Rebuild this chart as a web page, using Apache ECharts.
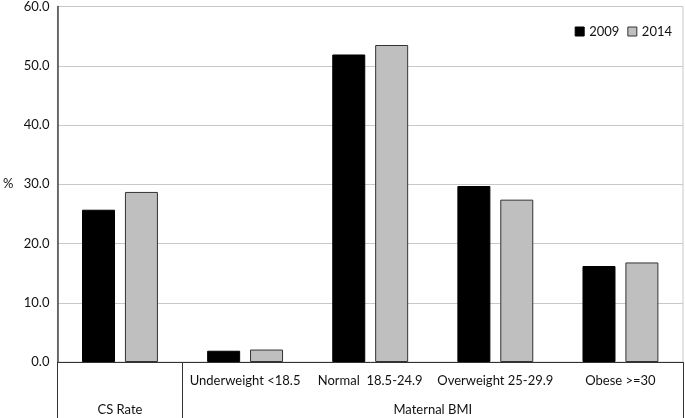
<!DOCTYPE html>
<html>
<head>
<meta charset="utf-8">
<script src="https://cdn.jsdelivr.net/npm/echarts@6/dist/echarts.min.js"></script>
<style>
  html, body { margin: 0; padding: 0; background: #fff; }
  #chart { width: 685px; height: 418px; }
</style>
</head>
<body>
<div id="chart"></div>
<script>
const categories = ['CS Rate', 'Underweight <18.5', 'Normal  18.5-24.9', 'Overweight 25-29.9', 'Obese >=30'];
const groupLabels = ['CS Rate', 'Maternal BMI'];
const groupBounds = [0, 1, 5];
const groupCenters = [0.5, 3];
const values2009 = [25.7, 1.9, 51.9, 29.7, 16.2];
const values2014 = [28.7, 2.1, 53.5, 27.4, 16.8];
const yTicks = [0, 10, 20, 30, 40, 50, 60];

const font = 'Lato, "Open Sans", sans-serif';
const chart = echarts.init(document.getElementById('chart'));
chart.setOption({
  animation: false,
  textStyle: { fontFamily: font },
  grid: { left: 55, right: 2, top: 5, bottom: 56, show: true, borderColor: '#c8c8c8', borderWidth: 1 },
  legend: {
    top: 20, right: 8,
    itemWidth: 9, itemHeight: 9, itemGap: 8,
    textStyle: { fontSize: 13, color: '#111', fontFamily: font },
    data: [
      { name: '2009', icon: 'rect', itemStyle: { color: '#000', borderColor: '#000', borderWidth: 1 } },
      { name: '2014', icon: 'rect', itemStyle: { color: '#bfbfbf', borderColor: '#333', borderWidth: 1 } }
    ]
  },
  xAxis: [
    {
      type: 'category',
      data: categories,
      position: 'bottom',
      axisLine: { show: true, lineStyle: { color: '#333', width: 1 } },
      axisTick: { show: false },
      axisLabel: { margin: 12, fontSize: 13, color: '#111', interval: 0, fontFamily: font,
        formatter: function (v, i) { return i === 0 ? '' : v; } }
    },
    {
      type: 'value',
      min: 0, max: 5,
      position: 'bottom',
      axisLine: { show: false },
      splitLine: { show: false },
      axisTick: { show: true, customValues: groupBounds, length: 56, lineStyle: { color: '#333', width: 1 } },
      axisLabel: {
        customValues: groupCenters, margin: 41, fontSize: 13, color: '#111', fontFamily: font,
        formatter: function (v) { return groupLabels[groupCenters.indexOf(v)]; }
      }
    }
  ],
  yAxis: {
    type: 'value',
    min: 0, max: 60, interval: 10,
    name: '%',
    nameLocation: 'middle',
    nameRotate: 0,
    nameGap: 44,
    nameTextStyle: { fontSize: 13, color: '#111', fontFamily: font },
    axisLine: { show: true, lineStyle: { color: '#444', width: 1.5 } },
    axisTick: { show: false },
    axisLabel: { margin: 8, fontSize: 13, color: '#111', fontFamily: font,
      formatter: function (v) { return v.toFixed(1); } },
    splitLine: { show: true, lineStyle: { color: '#c8c8c8', width: 1 } }
  },
  series: [
    {
      name: '2009', type: 'bar', data: values2009,
      barWidth: 33, barGap: '30%',
      itemStyle: { color: '#000', borderColor: '#000', borderWidth: 1 }
    },
    {
      name: '2014', type: 'bar', data: values2014,
      barWidth: 33,
      itemStyle: { color: '#bfbfbf', borderColor: '#333', borderWidth: 1 }
    }
  ]
});
</script>
</body>
</html>
